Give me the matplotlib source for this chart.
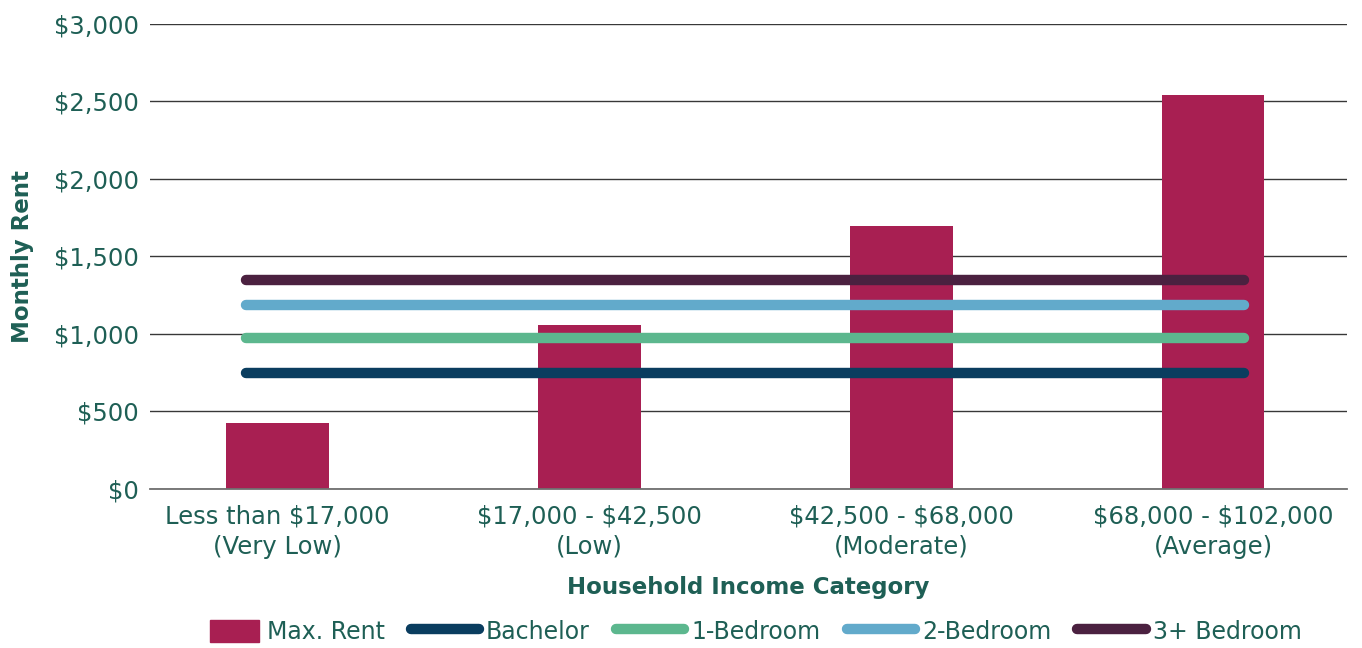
import matplotlib.pyplot as plt
import numpy as np
from matplotlib.lines import Line2D
from matplotlib.patches import Patch, Rectangle
from matplotlib.legend_handler import HandlerPatch

categories = ["Less than \\$17,000\n(Very Low)", "\\$17,000 - \\$42,500\n(Low)",
              "\\$42,500 - \\$68,000\n(Moderate)", "\\$68,000 - \\$102,000\n(Average)"]
max_rent = [425, 1060, 1695, 2540]
line_names = ["Bachelor", "1-Bedroom", "2-Bedroom", "3+ Bedroom"]
line_values = [748, 975, 1188, 1348]
line_colors = ["#0A3D5F", "#5CB78E", "#62AACB", "#4B2140"]
yticks = [0, 500, 1000, 1500, 2000, 2500, 3000]

text_color = "#1E5F55"
bar_color = "#A81F52"

plt.rcParams["font.family"] = ["DejaVu Sans"]

fig = plt.figure(figsize=(13.62, 6.48), dpi=100)
ax = fig.add_axes([0.110, 0.2454, 0.879, 0.7176])

x = np.arange(len(categories))
ax.bar(x, max_rent, width=0.33, color=bar_color, zorder=2)
for val, col in zip(line_values, line_colors):
    ax.plot([-0.1, 3.1], [val, val], color=col, lw=7.5,
            solid_capstyle="round", zorder=3)

ax.set_xlim(-0.41, 3.43)
ax.set_ylim(0, 3000)
ax.set_yticks(yticks)
ax.set_yticklabels([f"${v:,}" for v in yticks])
ax.set_xticks(x)
ax.set_xticklabels(categories, linespacing=1.35)
ax.yaxis.grid(True, color="#383838", lw=1.0, zorder=0)
ax.set_axisbelow(True)
for s in ["top", "right", "left"]:
    ax.spines[s].set_visible(False)
ax.spines["bottom"].set_color("#707070")
ax.spines["bottom"].set_linewidth(1.3)
ax.tick_params(length=0, labelsize=17.5, labelcolor=text_color)
ax.tick_params(axis="y", pad=8)
ax.tick_params(axis="x", pad=11)

ax.set_ylabel("Monthly Rent", fontsize=16.5, fontweight="bold", color=text_color, labelpad=14)
ax.set_xlabel("Household Income Category", fontsize=16.5, fontweight="bold",
              color=text_color, labelpad=12)


def square_patch(legend, orig_handle, xdescent, ydescent, width, height, fontsize):
    w = width * 0.72
    return Rectangle((-xdescent + width - w, -ydescent), w, height)


handles = [Patch(color=bar_color)]
handles += [Line2D([], [], color=c, lw=7.5, solid_capstyle="round") for c in line_colors]
leg = fig.legend(handles, ["Max. Rent"] + line_names, loc="center", ncol=5,
                 bbox_to_anchor=(0.548, 0.025), frameon=False, fontsize=17,
                 handlelength=2.9, handleheight=1.1, handletextpad=0.3, columnspacing=1.1,
                 handler_map={Patch: HandlerPatch(patch_func=square_patch)})
for t in leg.get_texts():
    t.set_color(text_color)

fig.savefig("out.png", dpi=100)
